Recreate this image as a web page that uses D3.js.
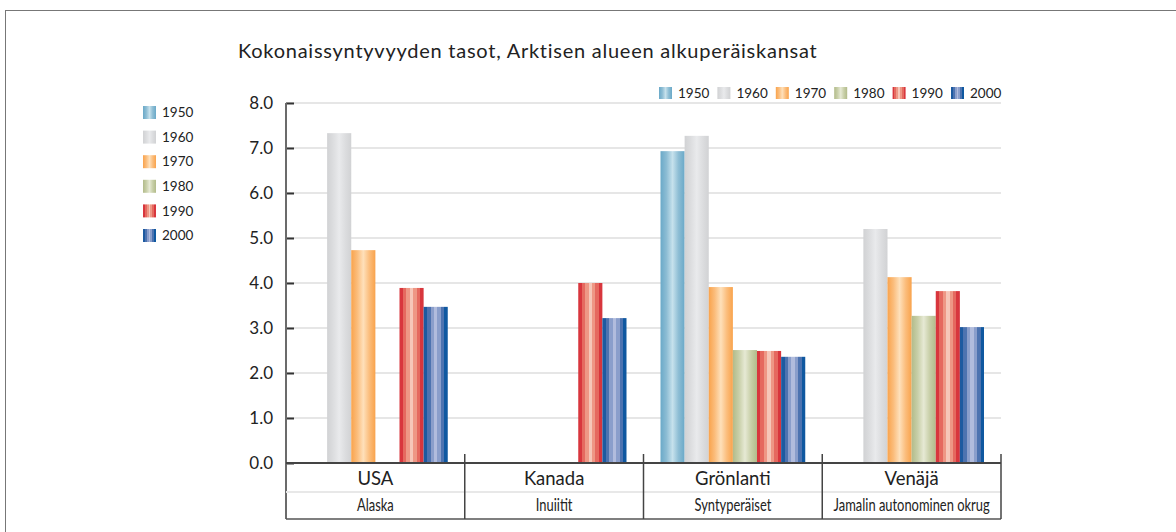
<!DOCTYPE html>
<html>
<head>
<meta charset="utf-8">
<script src="https://cdn.jsdelivr.net/npm/d3@7"></script>
<style>
  body { margin: 0; background: #fff; }
  svg { display: block; }
</style>
</head>
<body>
<div id="chart"></div>
<script>
// data
var countries = ["USA", "Kanada", "Grönlanti", "Venäjä"];
var regions = ["Alaska", "Inuiitit", "Syntyperäiset", "Jamalin autonominen okrug"];
var years = ["1950", "1960", "1970", "1980", "1990", "2000"];
var v1950 = [null, null, 6.93, null];
var v1960 = [7.33, null, 7.27, 5.20];
var v1970 = [4.73, null, 3.91, 4.13];
var v1980 = [null, null, 2.51, 3.27];
var v1990 = [3.89, 4.00, 2.49, 3.82];
var v2000 = [3.47, 3.22, 2.36, 3.02];
var yTicks = [0, 1, 2, 3, 4, 5, 6, 7, 8];
var title = "Kokonaissyntyvyyden tasot, Arktisen alueen alkuperäiskansat";

var series = [v1950, v1960, v1970, v1980, v1990, v2000];

// gradient stops per year (edge -> centre -> edge)
var stops = {
  "1950": ["#6aa9c8", "#8dbdd4", "#c6e1ec", "#8dbdd4", "#6aa9c8"],
  "1960": ["#d1d2d4", "#dcdddf", "#e9eaec", "#dcdddf", "#d1d2d4"],
  "1970": ["#f9a34c", "#fbbd7c", "#fee0ba", "#fbbd7c", "#f9a34c"],
  "1980": ["#b2bb8a", "#c8cfa8", "#e6e9d4", "#c8cfa8", "#b2bb8a"],
  "1990": ["#d8363d", "#e5695f", "#ee9785", "#f6c7b9", "#ee9785", "#e5695f", "#d8363d"],
  "2000": ["#1d5aa0", "#4d73b0", "#8a9ecb", "#b1bcdd", "#8a9ecb", "#4d73b0", "#0f58a0"]
};

(function () {
  var W = 1176, H = 532;
  var svg = d3.select("#chart").append("svg").attr("width", W).attr("height", H);

  var defs = svg.append("defs");
  years.forEach(function (yr) {
    var g = defs.append("linearGradient").attr("id", "g" + yr)
      .attr("x1", "0%").attr("x2", "100%").attr("y1", "0%").attr("y2", "0%");
    var s = stops[yr];
    if (yr == "1990" || yr == "2000") {
      // striped look: hard steps
      s.forEach(function (c, i) {
        g.append("stop").attr("offset", (i / s.length * 100) + "%").attr("stop-color", c);
        g.append("stop").attr("offset", ((i + 1) / s.length * 100) + "%").attr("stop-color", c);
      });
    } else {
      s.forEach(function (c, i) {
        g.append("stop").attr("offset", (i / (s.length - 1) * 100) + "%").attr("stop-color", c);
      });
    }
  });

  // frame
  svg.append("rect").attr("x", 5.5).attr("y", 10.5).attr("width", 1200).attr("height", 600)
    .attr("fill", "none").attr("stroke", "#777").attr("stroke-width", 1);

  var font = "Lato, 'Open Sans', sans-serif";

  svg.append("text").attr("x", 238).attr("y", 58).text(title)
    .style("font-family", font).style("font-size", "20px").style("letter-spacing", "0.75px")
    .attr("fill", "#222");

  var pLeft = 286, pRight = 1001, pTop = 103, pBottom = 463;

  var y = d3.scaleLinear().domain([0, 8]).range([pBottom, pTop]);
  var x0 = d3.scaleBand().domain(countries).range([pLeft, pRight]).padding(0);
  var x1 = d3.scaleBand().domain(years).range([17, x0.bandwidth() - 17]).padding(0);

  // gridlines
  svg.append("g").selectAll("line").data(yTicks.filter(function (d) { return d > 0; }))
    .join("line")
    .attr("x1", pLeft).attr("x2", pRight)
    .attr("y1", function (d) { return y(d); }).attr("y2", function (d) { return y(d); })
    .attr("stroke", "#e6e6e6").attr("stroke-width", 2);

  // bars
  countries.forEach(function (c, ci) {
    years.forEach(function (yr, yi) {
      var v = series[yi][ci];
      if (v == null) return;
      svg.append("rect")
        .attr("x", x0(c) + x1(yr))
        .attr("y", y(v))
        .attr("width", x1.bandwidth())
        .attr("height", y(0) - y(v))
        .attr("fill", "url(#g" + yr + ")");
    });
  });

  // y axis
  var yAxis = d3.axisRight(y).tickValues(yTicks).tickSize(8).tickFormat("");
  var ya = svg.append("g").attr("transform", "translate(" + pLeft + ",0)").call(yAxis);
  ya.select(".domain").remove();
  ya.selectAll(".tick line").attr("stroke", "#333").attr("stroke-width", 2);
  svg.append("line").attr("x1", pLeft).attr("x2", pLeft).attr("y1", pTop).attr("y2", 519)
    .attr("stroke", "#6b6b6b").attr("stroke-width", 2);

  svg.append("g").selectAll("text").data(yTicks).join("text")
    .attr("x", 273).attr("y", function (d) { return y(d); })
    .attr("dy", "0.35em").attr("text-anchor", "end")
    .style("font-family", font).style("font-size", "17px").attr("fill", "#222")
    .text(function (d) { return d3.format(".1f")(d); });

  // bottom table
  svg.append("line").attr("x1", pLeft).attr("x2", pRight).attr("y1", pBottom).attr("y2", pBottom)
    .attr("stroke", "#444").attr("stroke-width", 2);
  svg.append("line").attr("x1", pLeft).attr("x2", pRight).attr("y1", 492).attr("y2", 492)
    .attr("stroke", "#e8e8e8").attr("stroke-width", 2);
  svg.append("line").attr("x1", pLeft).attr("x2", pRight).attr("y1", 519).attr("y2", 519)
    .attr("stroke", "#555").attr("stroke-width", 1.5);
  svg.append("g").selectAll("line").data(countries.slice(1).map(function (c) { return x0(c); }).concat([pRight]))
    .join("line")
    .attr("x1", function (d) { return d; }).attr("x2", function (d) { return d; })
    .attr("y1", 454).attr("y2", 519)
    .attr("stroke", "#444").attr("stroke-width", 1.5);

  svg.append("g").selectAll("text").data(countries).join("text")
    .attr("x", function (d) { return x0(d) + x0.bandwidth() / 2; })
    .attr("y", 485).attr("text-anchor", "middle")
    .style("font-family", font).style("font-size", "18.5px").attr("fill", "#222")
    .text(function (d) { return d; });

  // condensed look for the second row
  svg.append("g").selectAll("text").data(regions).join("text")
    .attr("transform", function (d, i) {
      return "translate(" + (x0(countries[i]) + x0.bandwidth() / 2) + ",511) scale(0.76,1)";
    })
    .attr("text-anchor", "middle")
    .style("font-family", font).style("font-size", "17px").attr("fill", "#222")
    .text(function (d) { return d; });

  // top legend
  var tl = svg.append("g").selectAll("g").data(years).join("g")
    .attr("transform", function (d, i) { return "translate(" + (659 + i * 58.4) + ",87)"; });
  tl.append("rect").attr("width", 13).attr("height", 12)
    .attr("fill", function (d) { return "url(#g" + d + ")"; });
  tl.append("text").attr("x", 19).attr("y", 6).attr("dy", "0.35em")
    .style("font-family", font).style("font-size", "13.5px").attr("fill", "#222")
    .text(function (d) { return d; });

  // left legend
  var ll = svg.append("g").selectAll("g").data(years).join("g")
    .attr("transform", function (d, i) { return "translate(143," + (106 + i * 24.6) + ")"; });
  ll.append("rect").attr("width", 13).attr("height", 13)
    .attr("fill", function (d) { return "url(#g" + d + ")"; });
  ll.append("text").attr("x", 19).attr("y", 6.5).attr("dy", "0.35em")
    .style("font-family", font).style("font-size", "13.5px").attr("fill", "#222")
    .text(function (d) { return d; });
})();
</script>
</body>
</html>
